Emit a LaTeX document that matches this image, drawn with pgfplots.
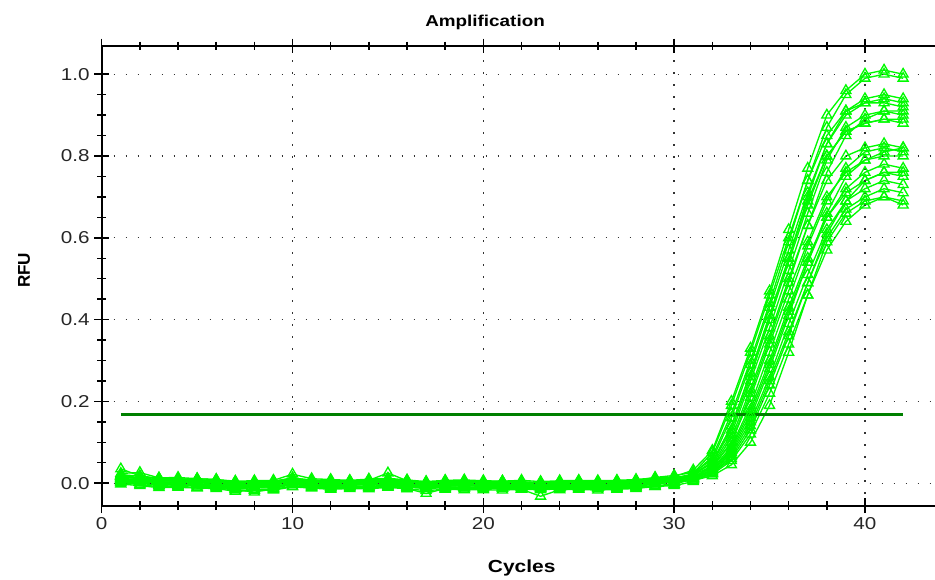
\documentclass[border=0pt]{standalone}
\usepackage{pgfplots}
\pgfplotsset{compat=1.18}
\usepackage{pgfplotstable}
\usepackage{fontspec}
\setmainfont{Liberation Sans}[FakeStretch=1.2]
\newfontfamily\plainsans{Liberation Sans}

\definecolor{ampgreen}{RGB}{0,250,0}
\definecolor{thrgreen}{RGB}{0,128,0}

% RFU per cycle, one column per well
\pgfplotstableread{
c y1 y2 y3 y4 y5 y6 y7 y8 y9 y10 y11 y12 y13 y14 y15 y16 y17 y18 y19 y20
1 0.018 0.004 0.013 0.035 0.001 0.016 0.008 0.020 0.006 0.011 0.024 0.009 0.017 -0.002 0.015 0.012 0.021 0.003 0.010 0.017
2 0.010 0.004 0.007 0.018 -0.003 0.012 0.004 0.013 0.002 0.008 0.026 0.005 0.010 -0.006 0.014 0.005 0.017 0.000 0.009 0.011
3 0.007 -0.005 0.001 0.012 -0.009 0.005 0.000 0.007 -0.004 0.002 0.013 -0.003 0.006 -0.011 0.008 -0.001 0.010 -0.006 0.003 0.005
4 0.006 -0.002 0.004 0.010 -0.008 0.006 -0.001 0.010 -0.005 0.003 0.014 0.000 0.005 -0.010 0.009 0.002 0.011 -0.003 0.002 0.008
5 0.005 -0.004 0.003 0.011 -0.010 0.003 -0.002 0.009 -0.007 0.004 0.011 -0.001 0.004 -0.012 0.006 0.001 0.008 -0.004 0.001 0.007
6 0.003 -0.007 0.001 0.009 -0.011 0.001 -0.004 0.005 -0.009 0.002 0.009 -0.005 0.004 -0.013 0.004 -0.001 0.006 -0.008 0.001 0.003
7 -0.003 -0.013 -0.005 0.003 -0.017 -0.003 -0.010 0.001 -0.015 -0.004 0.005 -0.011 -0.002 -0.020 0.000 -0.009 0.002 -0.014 -0.007 -0.001
8 0.000 -0.010 -0.006 0.004 -0.016 -0.002 -0.009 0.002 -0.022 -0.003 0.006 -0.010 -0.001 -0.018 0.001 -0.008 0.003 -0.011 -0.004 -0.002
9 -0.001 -0.009 -0.003 0.005 -0.015 -0.001 -0.008 0.003 -0.013 -0.002 0.007 -0.009 0.000 -0.017 0.002 -0.005 0.004 -0.012 -0.003 0.001
10 0.009 -0.001 0.005 0.013 -0.007 0.007 0.000 0.011 -0.003 0.006 0.022 0.001 0.008 -0.009 0.010 0.003 0.012 -0.002 0.005 0.009
11 0.004 -0.006 0.000 0.007 -0.010 0.003 -0.002 0.006 -0.008 0.000 0.011 -0.004 0.002 -0.012 0.006 -0.003 0.008 -0.006 -0.001 0.005
12 0.003 -0.009 -0.001 0.007 -0.013 0.001 -0.006 0.005 -0.011 0.000 0.009 -0.007 0.002 -0.015 0.004 -0.003 0.006 -0.010 -0.001 0.001
13 0.001 -0.007 -0.003 0.005 -0.011 -0.001 -0.004 0.003 -0.009 -0.002 0.007 -0.005 0.000 -0.013 0.002 -0.005 0.004 -0.008 -0.003 0.003
14 0.004 -0.008 0.000 0.008 -0.012 0.002 -0.003 0.004 -0.010 0.001 0.010 -0.004 0.003 -0.014 0.005 -0.002 0.007 -0.009 0.000 0.002
15 0.006 -0.004 0.004 0.010 -0.008 0.004 0.001 0.008 -0.006 0.003 0.012 -0.002 0.005 -0.010 0.009 0.000 0.025 -0.005 0.002 0.006
16 0.002 -0.008 -0.002 0.006 -0.013 0.000 -0.005 0.003 -0.010 -0.001 0.008 -0.006 0.001 -0.014 0.003 -0.004 0.006 -0.009 -0.002 0.002
17 -0.001 -0.011 -0.004 0.002 -0.025 -0.003 -0.008 0.001 -0.013 -0.004 0.004 -0.009 -0.002 -0.018 0.000 -0.007 0.002 -0.012 -0.006 -0.001
18 0.001 -0.009 -0.003 0.005 -0.013 -0.001 -0.006 0.003 -0.011 -0.002 0.007 -0.007 0.000 -0.015 0.002 -0.005 0.004 -0.010 -0.003 0.001
19 0.000 -0.010 -0.002 0.006 -0.012 -0.002 -0.005 0.002 -0.012 -0.001 0.008 -0.006 0.001 -0.016 0.003 -0.006 0.005 -0.009 -0.004 0.002
20 0.001 -0.010 -0.004 0.004 -0.014 -0.001 -0.007 0.002 -0.012 -0.003 0.006 -0.008 -0.001 -0.016 0.001 -0.006 0.003 -0.011 -0.004 0.000
21 -0.001 -0.009 -0.005 0.005 -0.013 -0.002 -0.006 0.001 -0.011 -0.002 0.005 -0.007 0.000 -0.017 0.002 -0.005 0.004 -0.012 -0.003 0.001
22 0.000 -0.011 -0.003 0.003 -0.015 -0.003 -0.008 0.003 -0.013 -0.004 0.007 -0.009 -0.002 -0.015 0.000 -0.007 0.002 -0.010 -0.005 -0.001
23 -0.002 -0.012 -0.006 0.002 -0.016 -0.004 -0.009 0.000 -0.014 -0.005 0.004 -0.010 -0.003 -0.032 -0.001 -0.008 0.001 -0.013 -0.006 -0.002
24 0.001 -0.010 -0.004 0.004 -0.014 -0.002 -0.007 0.002 -0.012 -0.003 0.006 -0.008 -0.001 -0.016 0.001 -0.006 0.003 -0.011 -0.004 0.000
25 0.000 -0.009 -0.002 0.005 -0.013 -0.001 -0.006 0.003 -0.011 -0.002 0.007 -0.007 0.000 -0.015 0.002 -0.005 0.004 -0.010 -0.003 0.001
26 0.001 -0.011 -0.004 0.004 -0.014 -0.002 -0.007 0.002 -0.012 -0.003 0.006 -0.008 -0.001 -0.017 0.001 -0.006 0.003 -0.011 -0.004 0.000
27 0.002 -0.009 -0.003 0.005 -0.013 0.000 -0.006 0.003 -0.011 -0.002 0.007 -0.007 0.000 -0.015 0.002 -0.005 0.004 -0.010 -0.003 0.001
28 0.003 -0.007 0.000 0.007 -0.011 0.002 -0.004 0.005 -0.009 0.001 0.009 -0.005 0.002 -0.013 0.004 -0.003 0.006 -0.008 -0.001 0.003
29 0.009 -0.002 0.003 0.014 -0.008 0.006 0.000 0.011 -0.006 0.005 0.013 0.001 0.005 -0.008 0.008 -0.001 0.010 -0.002 0.002 0.008
30 0.016 0.004 0.008 0.019 -0.003 0.011 0.003 0.014 -0.002 0.008 0.015 0.003 0.008 -0.006 0.009 0.002 0.013 0.004 0.005 0.012
31 0.032 0.022 0.020 0.026 0.013 0.021 0.013 0.020 0.010 0.015 0.017 0.011 0.012 0.004 0.011 0.007 0.015 0.024 0.010 0.023
32 0.080 0.065 0.050 0.058 0.045 0.050 0.040 0.042 0.035 0.038 0.030 0.032 0.027 0.025 0.022 0.018 0.030 0.075 0.024 0.052
33 0.20 0.17 0.14 0.16 0.12 0.13 0.10 0.11 0.09 0.10 0.08 0.085 0.07 0.065 0.055 0.045 0.075 0.19 0.06 0.14
34 0.33 0.30 0.27 0.29 0.25 0.26 0.22 0.23 0.19 0.21 0.17 0.18 0.15 0.14 0.12 0.10 0.16 0.32 0.13 0.27
35 0.47 0.44 0.41 0.43 0.38 0.40 0.35 0.36 0.32 0.34 0.29 0.30 0.26 0.25 0.22 0.19 0.28 0.46 0.24 0.41
36 0.62 0.59 0.55 0.57 0.52 0.54 0.49 0.50 0.45 0.47 0.42 0.43 0.39 0.37 0.34 0.32 0.41 0.60 0.36 0.55
37 0.77 0.74 0.70 0.71 0.66 0.68 0.63 0.63 0.58 0.59 0.54 0.55 0.51 0.49 0.46 0.46 0.54 0.74 0.49 0.69
38 0.90 0.87 0.83 0.83 0.79 0.80 0.76 0.74 0.69 0.70 0.65 0.65 0.62 0.60 0.57 0.59 0.66 0.85 0.61 0.80
39 0.96 0.95 0.91 0.90 0.87 0.86 0.85 0.80 0.77 0.76 0.72 0.71 0.69 0.67 0.64 0.66 0.75 0.91 0.69 0.86
40 1.00 0.99 0.94 0.93 0.90 0.88 0.89 0.82 0.81 0.79 0.76 0.74 0.72 0.70 0.68 0.69 0.79 0.93 0.74 0.88
41 1.01 1.00 0.95 0.94 0.91 0.89 0.91 0.83 0.82 0.80 0.78 0.76 0.74 0.72 0.70 0.70 0.81 0.93 0.76 0.89
42 1.00 0.99 0.94 0.93 0.90 0.88 0.91 0.82 0.81 0.80 0.77 0.75 0.73 0.71 0.69 0.68 0.82 0.92 0.76 0.89
}\amp

\begin{document}
\begin{tikzpicture}
\begin{axis}[
  name=ax,
  scale only axis,
  width=625pt, height=344.8pt,
  xmin=0, xmax=43.67,
  ymin=-0.055, ymax=1.069,
  axis x line*=box, axis y line*=left,
  axis line style={line width=1.3pt, black},
  axis on top,
  xtick={0,10,...,40},
  ytick={0,0.2,0.4,0.6,0.8,1.0},
  minor x tick num=4, minor y tick num=3,
  tick align=center,
  major tick length=11pt, minor tick length=6.5pt,
  every tick/.style={black, line width=1.1pt},
  grid=major,
  major grid style={black!80, line width=1pt, dash pattern=on 1pt off 8pt},
  /pgf/number format/assume math mode=true,
  tick label style={font=\fontsize{12.9}{14}\selectfont, text=black!85},
  yticklabel style={/pgf/number format/.cd, fixed, fixed zerofill, precision=1},
  title={Amplification},
  title style={at={(axis description cs:0.46,1)}, anchor=center, yshift=11.3pt,
    font=\fontsize{11.8}{13}\selectfont\bfseries},
  xlabel={Cycles},
  every axis x label/.style={at={(axis description cs:0.504,0)}, anchor=center,
    yshift=-47pt, font=\fontsize{13.1}{15}\selectfont\bfseries},
  ylabel={RFU},
  every axis y label/.style={at={(axis description cs:0,0.512)}, xshift=-58.3pt,
    anchor=center, rotate=90, font=\plainsans\fontsize{12.8}{15}\selectfont\bfseries},
]
\pgfplotsinvokeforeach{1,...,20}{
  \addplot[ampgreen, line width=1pt, mark=triangle, mark size=4.3pt,
    mark options={line width=1pt}] table[x=c, y=y#1] {\amp};
}
% threshold
\addplot[thrgreen, line width=2.3pt] coordinates {(1,0.169) (42,0.169)};
\end{axis}
\pgfresetboundingbox
\path[use as bounding box] ([xshift=-76.3pt,yshift=-55.7pt]ax.south west)
  rectangle ([yshift=34.5pt]ax.north east);
\end{tikzpicture}
\end{document}
